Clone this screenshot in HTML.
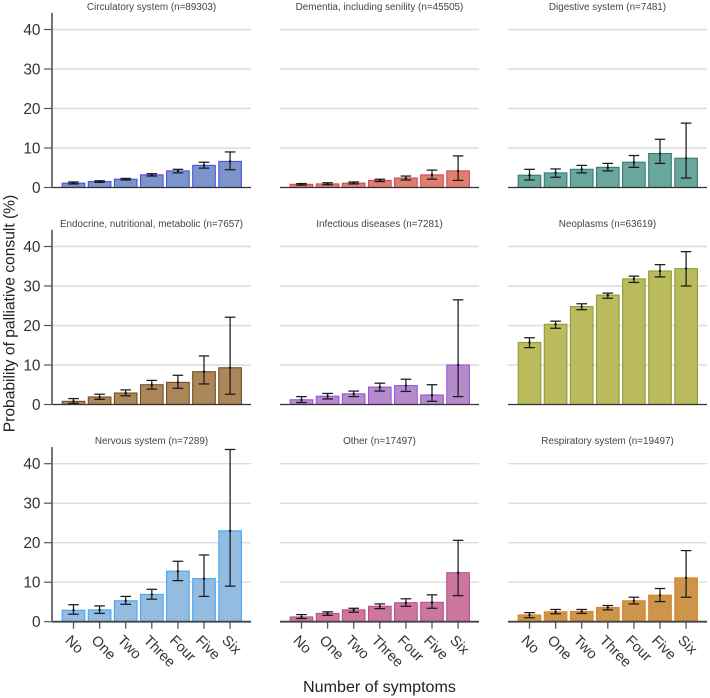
<!DOCTYPE html>
<html>
<head>
<meta charset="utf-8">
<title>Probability of palliative consult by number of symptoms</title>
<style>
html,body{margin:0;padding:0;background:#fff;}
svg{display:block;font-family:"Liberation Sans",Arial,sans-serif;}
</style>
</head>
<body>
<svg id="chart" width="710" height="698" viewBox="0 0 710 698" xmlns="http://www.w3.org/2000/svg">
<text x="14.5" y="313.5" transform="rotate(-90 14.5 313.5)" text-anchor="middle" font-size="15.6" fill="#222">Probability of palliative consult (%)</text>
<text x="379.5" y="692" text-anchor="middle" font-size="16.1" fill="#222">Number of symptoms</text>
</svg>
<script>
const categories = ['No','One','Two','Three','Four','Five','Six'];
const yTicks = [0,10,20,30,40];
const panelTitles = ['Circulatory system (n=89303)','Dementia, including senility (n=45505)','Digestive system (n=7481)','Endocrine, nutritional, metabolic (n=7657)','Infectious diseases (n=7281)','Neoplasms (n=63619)','Nervous system (n=7289)','Other (n=17497)','Respiratory system (n=19497)'];
const circulatoryValues = [1.1,1.5,2.1,3.2,4.2,5.6,6.6];
const circulatoryLow = [0.9,1.3,1.9,2.9,3.7,4.9,4.5];
const circulatoryHigh = [1.4,1.7,2.3,3.5,4.6,6.4,9.0];
const dementiaValues = [0.8,0.9,1.1,1.8,2.4,3.2,4.2];
const dementiaLow = [0.6,0.7,0.9,1.5,1.9,2.1,1.8];
const dementiaHigh = [1.0,1.2,1.4,2.1,2.9,4.4,8.0];
const digestiveValues = [3.1,3.7,4.6,5.1,6.4,8.6,7.4];
const digestiveLow = [1.9,2.6,3.7,4.2,5.1,6.1,2.4];
const digestiveHigh = [4.6,4.7,5.6,6.1,8.1,12.2,16.3];
const endocrineValues = [0.8,1.9,2.9,5.0,5.6,8.3,9.3];
const endocrineLow = [0.3,1.3,2.2,3.9,4.1,5.2,2.6];
const endocrineHigh = [1.5,2.6,3.7,6.1,7.4,12.3,22.1];
const infectiousValues = [1.2,2.1,2.7,4.4,4.8,2.4,10.0];
const infectiousLow = [0.5,1.4,2.0,3.4,3.3,0.8,2.0];
const infectiousHigh = [2.0,2.8,3.4,5.4,6.4,5.0,26.5];
const neoplasmsValues = [15.7,20.3,24.8,27.7,31.8,33.8,34.4];
const neoplasmsLow = [14.4,19.3,24.0,26.9,30.9,32.3,30.0];
const neoplasmsHigh = [16.9,21.1,25.5,28.2,32.5,35.4,38.7];
const nervousValues = [2.9,3.0,5.3,6.9,12.8,10.9,23.0];
const nervousLow = [1.9,2.1,4.4,5.7,10.4,6.4,9.0];
const nervousHigh = [4.3,4.0,6.4,8.2,15.3,16.9,43.6];
const otherValues = [1.2,2.1,3.0,3.9,4.8,4.9,12.4];
const otherLow = [0.8,1.6,2.4,3.3,3.9,3.4,6.6];
const otherHigh = [1.8,2.5,3.4,4.5,5.8,6.8,20.6];
const respiratoryValues = [1.7,2.5,2.6,3.6,5.3,6.7,11.1];
const respiratoryLow = [1.0,2.0,2.1,3.0,4.5,5.1,6.2];
const respiratoryHigh = [2.3,3.1,3.1,4.1,6.2,8.4,18.0];

const seriesValues = [circulatoryValues,dementiaValues,digestiveValues,endocrineValues,infectiousValues,neoplasmsValues,nervousValues,otherValues,respiratoryValues];
const seriesLow = [circulatoryLow,dementiaLow,digestiveLow,endocrineLow,infectiousLow,neoplasmsLow,nervousLow,otherLow,respiratoryLow];
const seriesHigh = [circulatoryHigh,dementiaHigh,digestiveHigh,endocrineHigh,infectiousHigh,neoplasmsHigh,nervousHigh,otherHigh,respiratoryHigh];
const fillColors = ['#7c94cc','#e07f70','#69a69c','#ad8659','#b68bcb','#b9bb5d','#94bbe0','#cd779e','#cc9549'];
const strokeColors = ['#4b50e2','#d0475a','#2f7f76','#6f4c22','#9a55d8','#929c33','#45a6f5','#b4508a','#e08325'];

const svg = document.getElementById('chart');
const NS = 'http://www.w3.org/2000/svg';
const colLeft = [52,280,508];
const rowZero = [187.5,404.5,621.7];
const PX_PER_UNIT = 3.95;
const PANEL_W = 199;
const FIRST_BAR = 21.5;
const BAR_STEP = 26.1;
const BAR_W = 22.6;
const Y_MAX = 44.2;

function draw(parent, tag, attrs, text){
  const el = document.createElementNS(NS, tag);
  for (const k in attrs) el.setAttribute(k, attrs[k]);
  if (text !== undefined) el.textContent = text;
  parent.appendChild(el);
  return el;
}
function xScale(col, i){ return colLeft[col] + FIRST_BAR + i * BAR_STEP; }
function yScale(row, v){ return rowZero[row] - v * PX_PER_UNIT; }

seriesValues.forEach(function(values, p){
  const col = p % 3, row = Math.floor(p / 3);
  const left = colLeft[col], right = left + PANEL_W;
  const g = draw(svg, 'g', {});
  
  

  const title = draw(g, 'text', {x: left + 99.5, y: yScale(row, Y_MAX) - 3, 'text-anchor': 'middle', 'font-size': 9.9, fill: '#444'}, panelTitles[p]);
  
  

  yTicks.forEach(function(t){
    if (t === 0) return;
    const grid = draw(g, 'line', {x1: left, x2: right, y1: yScale(row, t), y2: yScale(row, t), stroke: '#dcdcdc', 'stroke-width': 1.4});
    
    
  });

  values.forEach(function(v, i){
    const cx = xScale(col, i);
    const bar = draw(g, 'rect', {x: cx - BAR_W / 2, y: yScale(row, v), width: BAR_W, height: v * PX_PER_UNIT, fill: fillColors[p], stroke: strokeColors[p], 'stroke-width': 1.1});
    
    

    const errAttrs = {stroke: '#1a1a1a', 'stroke-width': 1.25};
    const yLo = yScale(row, seriesLow[p][i]), yHi = yScale(row, seriesHigh[p][i]);
    const stem = draw(g, 'line', Object.assign({x1: cx, x2: cx, y1: yLo, y2: yHi}, errAttrs));
    
    
    const capLow = draw(g, 'line', Object.assign({x1: cx - 5.3, x2: cx + 5.3, y1: yLo, y2: yLo}, errAttrs));
    
    
    const capHigh = draw(g, 'line', Object.assign({x1: cx - 5.3, x2: cx + 5.3, y1: yHi, y2: yHi}, errAttrs));
    
    
    const dot = draw(g, 'circle', {cx: cx, cy: yScale(row, v), r: 1.2, fill: '#111'});
    
    

    if (row === 2) {
      const tick = draw(g, 'line', {x1: cx, x2: cx, y1: rowZero[row], y2: rowZero[row] + 7, stroke: '#555', 'stroke-width': 1.3});
      
      
      const tx = cx - 9, ty = rowZero[row] + 19.5;
      const lab = draw(g, 'text', {x: tx, y: ty, transform: 'rotate(45 ' + tx + ' ' + ty + ')', 'font-size': 14.5, fill: '#333'}, categories[i]);
      
      
    }
  });

  const base = draw(g, 'line', {x1: left, x2: right, y1: rowZero[row], y2: rowZero[row], stroke: row === 2 ? '#444' : '#333', 'stroke-width': row === 2 ? 1.8 : 1.3});
  
  

  if (col === 0) {
    const spine = draw(g, 'line', {x1: left, x2: left, y1: yScale(row, Y_MAX), y2: rowZero[row], stroke: '#666', 'stroke-width': 1.8});
    
    
    yTicks.forEach(function(t){
      const tick = draw(g, 'line', {x1: left - 8, x2: left, y1: yScale(row, t), y2: yScale(row, t), stroke: '#555', 'stroke-width': 1.2});
      
      
      const lab = draw(g, 'text', {x: left - 11.5, y: yScale(row, t) + 5.5, 'text-anchor': 'end', 'font-size': 15.4, fill: '#333'}, t);
      
      
    });
  }
});
</script>
</body>
</html>
